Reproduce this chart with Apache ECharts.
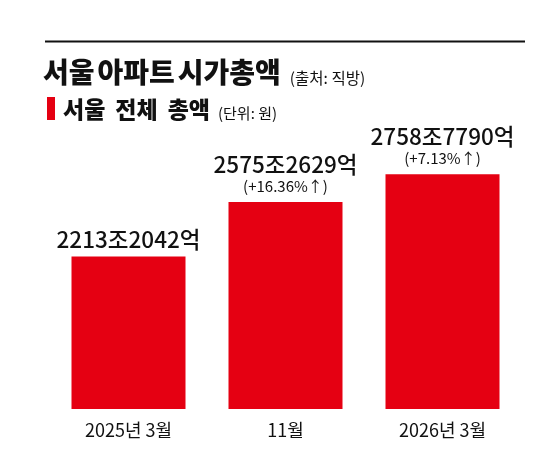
<!DOCTYPE html>
<html><head><meta charset="utf-8">
<script src="https://cdn.jsdelivr.net/npm/echarts@6/dist/echarts.min.js"></script>
<style>html,body{margin:0;padding:0;background:#fff}#c{width:544px;height:457px}</style>
</head><body><div id="c"></div>
<script>
const categories = ['2025년 3월', '11월', '2026년 3월'];
const totals = [22132042, 25752629, 27587790]; // 억 원
const changes = [null, '+16.36%', '+7.13%'];
const titleWords = ['서울', '아파트', '시가총액'];
const sourceText = '(출처: 직방)';
const subtitleWords = ['서울', '전체', '총액'];
const unitText = '(단위: 원)';

const FONT = '"Noto Sans CJK KR", "Noto Sans", sans-serif';
const RED = '#e50012';

function fmt(v) {
  return Math.floor(v / 10000) + '조' + (v % 10000) + '억';
}
function words(arr) {
  return arr.map(w => '{t|' + w + '}').join('{g| }');
}

const chart = echarts.init(document.getElementById('c'), null, {renderer: 'canvas'});
chart.setOption({
  backgroundColor: '#fff',
  animation: false,
  textStyle: {fontFamily: FONT},
  graphic: [
    {type: 'rect', shape: {x: 45, y: 40.5, width: 480, height: 2}, style: {fill: '#111'}},
    {type: 'text', x: 43, y: 86, style: {
      text: words(titleWords) + '{h| }{s|' + sourceText + '}',
      verticalAlign: 'bottom',
      rich: {
        t: {fontSize: 28, fontWeight: 900, fontFamily: FONT, fill: '#111', lineHeight: 32, verticalAlign: 'bottom'},
        g: {width: 3, fontSize: 10, lineHeight: 32},
        h: {width: 9, fontSize: 10, lineHeight: 32},
        s: {fontSize: 15.5, fontFamily: FONT, fill: '#111', lineHeight: 30, verticalAlign: 'bottom'}
      }
    }},
    {type: 'rect', shape: {x: 47, y: 97, width: 8, height: 23}, style: {fill: RED}},
    {type: 'text', x: 63, y: 121, style: {
      text: words(subtitleWords) + '{h| }{s|' + unitText + '}',
      verticalAlign: 'bottom',
      rich: {
        t: {fontSize: 23, fontWeight: 900, fontFamily: FONT, fill: '#111', lineHeight: 26, verticalAlign: 'bottom'},
        g: {width: 10, fontSize: 10, lineHeight: 26},
        h: {width: 8, fontSize: 10, lineHeight: 26},
        s: {fontSize: 15, fontFamily: FONT, fill: '#111', lineHeight: 24, verticalAlign: 'bottom'}
      }
    }}
  ],
  grid: {left: 50, right: 23, top: 138, bottom: 48, containLabel: false},
  xAxis: {
    type: 'category',
    data: categories,
    axisLine: {show: false},
    axisTick: {show: false},
    axisLabel: {color: '#111', fontSize: 18, fontFamily: FONT, margin: 12}
  },
  yAxis: {
    type: 'value',
    min: 12000000,
    max: 30000000,
    show: false,
    splitLine: {show: false}
  },
  series: [{
    type: 'bar',
    data: totals,
    barWidth: 114,
    itemStyle: {color: RED},
    label: {
      show: true,
      position: 'top',
      distance: 6,
      formatter: function (p) {
        const c = changes[p.dataIndex];
        let s = '{a|' + fmt(p.value) + '}';
        if (c) s += '\n{b|(' + c + '↑)}';
        return s;
      },
      rich: {
        a: {fontSize: 22.5, fontWeight: 500, color: '#111', fontFamily: FONT, lineHeight: 23},
        b: {fontSize: 15, color: '#111', fontFamily: FONT, lineHeight: 20}
      }
    }
  }]
});
</script></body></html>
